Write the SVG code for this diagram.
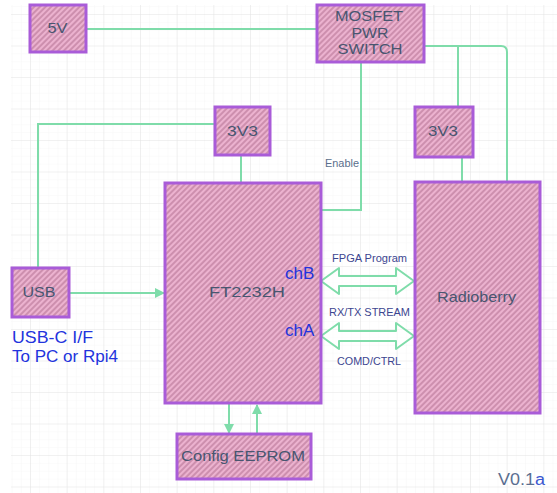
<svg xmlns="http://www.w3.org/2000/svg" width="557" height="493" viewBox="0 0 557 493">
  <style>
    .box { fill: url(#hatch); stroke: #a95cd8; stroke-width: 3; }
    .lbl { font-family: "Liberation Sans", Arial, sans-serif; font-size: 14.5px; fill: #485670; text-anchor: middle; }
    .small { font-family: "Liberation Sans", Arial, sans-serif; font-size: 11px; fill: #3c4590; text-anchor: middle; }
    .blue { font-family: "Liberation Sans", Arial, sans-serif; font-size: 17px; fill: #2233dd; }
    .wire { fill: none; stroke: #7fdcaa; stroke-width: 2; }
    .dbl { fill: #ffffff; fill-opacity: 0.6; stroke: #7fdcaa; stroke-width: 2; stroke-linejoin: round; }
  </style>
  <defs>
    <pattern id="hatch" patternUnits="userSpaceOnUse" width="4" height="4" patternTransform="rotate(45)">
      <rect width="4" height="4" fill="#e6a2c4"/>
      <line x1="1" y1="0" x2="1" y2="4" stroke="#bd829f" stroke-width="1.2"/>
      <line x1="3" y1="0" x2="3" y2="4" stroke="#f4cadf" stroke-width="0.8"/>
    </pattern>
    <pattern id="gridMinor" patternUnits="userSpaceOnUse" x="30" y="14" width="9.1667" height="7.875">
      <path d="M0,0 V7.875 M0,0 H9.1667" fill="none" stroke="#000" stroke-opacity="0.03" stroke-width="1"/>
    </pattern>
    <pattern id="gridMajor" patternUnits="userSpaceOnUse" x="30" y="14" width="36.667" height="31.5">
      <path d="M0,0 V31.5 M0,0 H36.667" fill="none" stroke="#000" stroke-opacity="0.08" stroke-width="1"/>
    </pattern>
    <marker id="arr" viewBox="0 0 10 10" refX="9" refY="5" markerWidth="5" markerHeight="5" orient="auto">
      <path d="M0,0 L10,5 L0,10 Z" fill="#7fdcaa"/>
    </marker>
  </defs>

  <rect width="557" height="493" fill="#ffffff"/>
  <rect x="11" y="5" width="546" height="488" fill="url(#gridMinor)"/>
  <rect x="11" y="5" width="546" height="488" fill="url(#gridMajor)"/>

  <g id="connectors">
    <path class="wire" d="M86,29 H317"/>
    <path class="wire" d="M361,62 V210 H322"/>
    <path class="wire" d="M424,46 H501 Q507,46 507,52 V182"/>
    <path class="wire" d="M458,46 V107"/>
    <path class="wire" d="M462,157 V182"/>
    <path class="wire" d="M215,124 H38 V268"/>
    <path class="wire" d="M241,155 V183"/>
    <path class="wire" d="M69,293 H164" marker-end="url(#arr)"/>
    <path class="wire" d="M229,404 V433" marker-end="url(#arr)"/>
    <path class="wire" d="M257,434 V405" marker-end="url(#arr)"/>
    <path class="dbl" d="M321,281 L339,268 L339,276 L396,276 L396,268 L414,281 L396,294 L396,286 L339,286 L339,294 Z"/>
    <path class="dbl" d="M321,336 L339,323 L339,331 L396,331 L396,323 L414,336 L396,349 L396,341 L339,341 L339,349 Z"/>
    <text class="small" x="342" y="167" textLength="34" lengthAdjust="spacingAndGlyphs" style="fill:#5a6e8c;font-size:10px">Enable</text>
    <text class="small" x="369.5" y="262" textLength="75" lengthAdjust="spacingAndGlyphs">FPGA Program</text>
    <text class="small" x="369.5" y="316" textLength="81" lengthAdjust="spacingAndGlyphs">RX/TX STREAM</text>
    <text class="small" x="369" y="365" textLength="64" lengthAdjust="spacingAndGlyphs">COMD/CTRL</text>
  </g>

  <g id="node-5v">
    <rect class="box" x="30" y="5" width="56" height="47"/>
    <text class="lbl" x="57.5" y="33" textLength="20" lengthAdjust="spacingAndGlyphs">5V</text>
  </g>

  <g id="node-mosfet">
    <rect class="box" x="317" y="5" width="107" height="57"/>
    <text class="lbl" x="369" y="21" textLength="68" lengthAdjust="spacingAndGlyphs">MOSFET</text>
    <text class="lbl" x="370" y="38" textLength="37" lengthAdjust="spacingAndGlyphs">PWR</text>
    <text class="lbl" x="370" y="54" textLength="65" lengthAdjust="spacingAndGlyphs">SWITCH</text>
  </g>

  <g id="node-3v3-left">
    <rect class="box" x="215" y="107" width="55" height="48"/>
    <text class="lbl" x="242.5" y="136" textLength="31" lengthAdjust="spacingAndGlyphs">3V3</text>
  </g>

  <g id="node-3v3-right">
    <rect class="box" x="415" y="107" width="58" height="50"/>
    <text class="lbl" x="443" y="136" textLength="30" lengthAdjust="spacingAndGlyphs">3V3</text>
  </g>

  <g id="node-usb">
    <rect class="box" x="12" y="268" width="57" height="49"/>
    <text class="lbl" x="39" y="297" textLength="33" lengthAdjust="spacingAndGlyphs">USB</text>
  </g>

  <g id="node-ft2232h">
    <rect class="box" x="165" y="183" width="156" height="220"/>
    <text class="lbl" x="247" y="297" textLength="76" lengthAdjust="spacingAndGlyphs">FT2232H</text>
    <text class="blue" x="285" y="279">chB</text>
    <text class="blue" x="285" y="336">chA</text>
  </g>

  <g id="node-radioberry">
    <rect class="box" x="415" y="182" width="125" height="231"/>
    <text class="lbl" x="476.5" y="302" textLength="79" lengthAdjust="spacingAndGlyphs">Radioberry</text>
  </g>

  <g id="node-eeprom">
    <rect class="box" x="177" y="434" width="134" height="45"/>
    <text class="lbl" x="243" y="461" textLength="124" lengthAdjust="spacingAndGlyphs">Config EEPROM</text>
  </g>

  <g id="notes">
    <text class="blue" x="12" y="343" style="font-size:16.5px" textLength="81" lengthAdjust="spacingAndGlyphs">USB-C I/F</text>
    <text class="blue" x="12" y="362" style="font-size:16.5px" textLength="106" lengthAdjust="spacingAndGlyphs">To PC or Rpi4</text>
    <text x="498" y="485" textLength="47" lengthAdjust="spacingAndGlyphs" style="font-family:'Liberation Sans', Arial, sans-serif;font-size:16px;fill:#5a6e90">V0.1<tspan fill="#3a58d0">a</tspan></text>
  </g>
</svg>
